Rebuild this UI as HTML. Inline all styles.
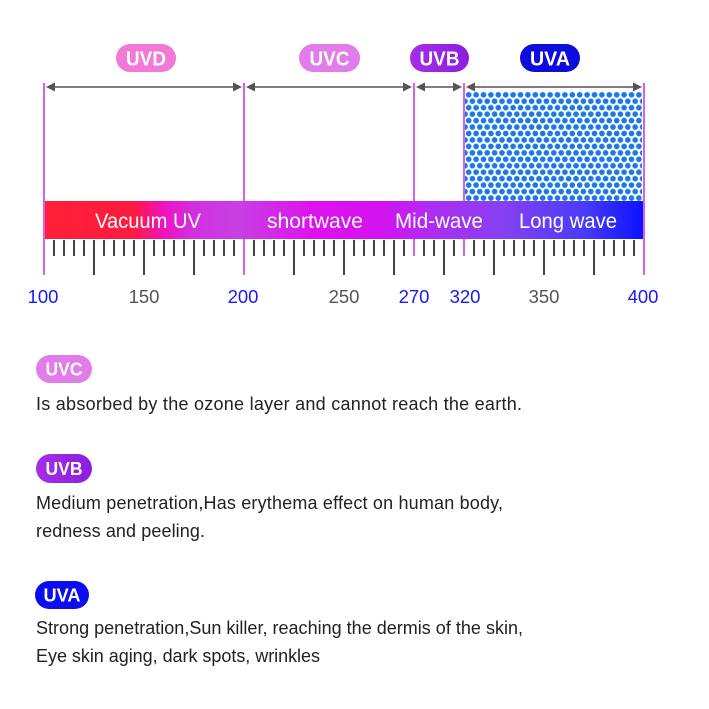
<!DOCTYPE html>
<html><head><meta charset="utf-8">
<style>
html,body{margin:0;padding:0;background:#fff;}
svg{display:block;}
</style></head>
<body>
<svg width="709" height="709" viewBox="0 0 709 709" xmlns="http://www.w3.org/2000/svg">
<defs>
<linearGradient id="bar" x1="44" y1="0" x2="644" y2="0" gradientUnits="userSpaceOnUse">
<stop offset="0" stop-color="#ff2038"/>
<stop offset="0.15" stop-color="#ff1a40"/>
<stop offset="0.2" stop-color="#f012c0"/>
<stop offset="0.25" stop-color="#d030e0"/>
<stop offset="0.32" stop-color="#c840e2"/>
<stop offset="0.45" stop-color="#dc12ee"/>
<stop offset="0.56" stop-color="#d412f0"/>
<stop offset="0.64" stop-color="#b02cf0"/>
<stop offset="0.76" stop-color="#8840f2"/>
<stop offset="0.9" stop-color="#4a3cf8"/>
<stop offset="1" stop-color="#0a12ff"/>
</linearGradient>
<linearGradient id="uvb" x1="0" y1="0" x2="1" y2="0">
<stop offset="0" stop-color="#a52ee6"/>
<stop offset="1" stop-color="#8a1ee0"/>
</linearGradient>
<pattern id="dots" x="465" y="94.8" width="7.4" height="12.9" patternUnits="userSpaceOnUse">
<circle cx="3.7" cy="0" r="2.85" fill="#1a78e8"/>
<circle cx="0" cy="6.45" r="2.85" fill="#1a78e8"/>
<circle cx="7.4" cy="6.45" r="2.85" fill="#1a78e8"/>
<circle cx="3.7" cy="12.9" r="2.85" fill="#1a78e8"/>
</pattern>
</defs>

<!-- top pills -->
<rect x="116" y="44" width="60" height="28" rx="14" fill="#f27ad6"/>
<text x="146" y="65.5" font-family="Liberation Sans, sans-serif" font-weight="bold" font-size="20" fill="#fff" text-anchor="middle" textLength="40" lengthAdjust="spacingAndGlyphs">UVD</text>
<rect x="299" y="44" width="61" height="28" rx="14" fill="#e27ce8"/>
<text x="329.5" y="65.5" font-family="Liberation Sans, sans-serif" font-weight="bold" font-size="20" fill="#fff" text-anchor="middle" textLength="40" lengthAdjust="spacingAndGlyphs">UVC</text>
<rect x="410" y="44" width="59" height="28" rx="14" fill="url(#uvb)"/>
<text x="439.5" y="65.5" font-family="Liberation Sans, sans-serif" font-weight="bold" font-size="20" fill="#fff" text-anchor="middle" textLength="40" lengthAdjust="spacingAndGlyphs">UVB</text>
<rect x="520" y="44" width="60" height="28" rx="14" fill="#0c0cdc"/>
<text x="550" y="65.5" font-family="Liberation Sans, sans-serif" font-weight="bold" font-size="20" fill="#fff" text-anchor="middle" textLength="40" lengthAdjust="spacingAndGlyphs">UVA</text>

<!-- dotted area -->
<rect x="465" y="92" width="177" height="109" fill="url(#dots)"/>

<!-- vertical purple lines -->
<g stroke="#d95ef0" stroke-width="2">
<line x1="44" y1="83" x2="44" y2="275"/>
<line x1="244" y1="83" x2="244" y2="275"/>
<line x1="414" y1="83" x2="414" y2="256"/>
<line x1="464" y1="83" x2="464" y2="256"/>
<line x1="644" y1="83" x2="644" y2="275"/>
</g>

<!-- arrows -->
<g stroke="#555" stroke-width="1.5">
<line x1="50" y1="87" x2="238" y2="87"/>
<line x1="250" y1="87" x2="408" y2="87"/>
<line x1="420" y1="87" x2="458" y2="87"/>
<line x1="470" y1="87" x2="638" y2="87"/>
</g>
<g fill="#555">
<polygon points="46,87 55,82.5 55,91.5"/>
<polygon points="242,87 233,82.5 233,91.5"/>
<polygon points="246,87 255,82.5 255,91.5"/>
<polygon points="412,87 403,82.5 403,91.5"/>
<polygon points="416,87 425,82.5 425,91.5"/>
<polygon points="462,87 453,82.5 453,91.5"/>
<polygon points="466,87 475,82.5 475,91.5"/>
<polygon points="642,87 633,82.5 633,91.5"/>
</g>

<!-- gradient bar -->
<rect x="45" y="201" width="598" height="38" fill="url(#bar)"/>
<g font-family="Liberation Sans, sans-serif" font-size="21" fill="#fff">
<text x="95" y="228" textLength="106" lengthAdjust="spacingAndGlyphs">Vacuum UV</text>
<text x="267" y="228" textLength="96" lengthAdjust="spacingAndGlyphs">shortwave</text>
<text x="395" y="228" textLength="88" lengthAdjust="spacingAndGlyphs">Mid-wave</text>
<text x="519" y="228" textLength="98" lengthAdjust="spacingAndGlyphs">Long wave</text>
</g>

<!-- ticks -->
<g stroke="#444" stroke-width="2">
<line x1="54" y1="240" x2="54" y2="256"/><line x1="64" y1="240" x2="64" y2="256"/><line x1="74" y1="240" x2="74" y2="256"/><line x1="84" y1="240" x2="84" y2="256"/>
<line x1="94" y1="240" x2="94" y2="275"/>
<line x1="104" y1="240" x2="104" y2="256"/><line x1="114" y1="240" x2="114" y2="256"/><line x1="124" y1="240" x2="124" y2="256"/><line x1="134" y1="240" x2="134" y2="256"/>
<line x1="144" y1="240" x2="144" y2="275"/>
<line x1="154" y1="240" x2="154" y2="256"/><line x1="164" y1="240" x2="164" y2="256"/><line x1="174" y1="240" x2="174" y2="256"/><line x1="184" y1="240" x2="184" y2="256"/>
<line x1="194" y1="240" x2="194" y2="275"/>
<line x1="204" y1="240" x2="204" y2="256"/><line x1="214" y1="240" x2="214" y2="256"/><line x1="224" y1="240" x2="224" y2="256"/><line x1="234" y1="240" x2="234" y2="256"/>
<line x1="254" y1="240" x2="254" y2="256"/><line x1="264" y1="240" x2="264" y2="256"/><line x1="274" y1="240" x2="274" y2="256"/><line x1="284" y1="240" x2="284" y2="256"/>
<line x1="294" y1="240" x2="294" y2="275"/>
<line x1="304" y1="240" x2="304" y2="256"/><line x1="314" y1="240" x2="314" y2="256"/><line x1="324" y1="240" x2="324" y2="256"/><line x1="334" y1="240" x2="334" y2="256"/>
<line x1="344" y1="240" x2="344" y2="275"/>
<line x1="354" y1="240" x2="354" y2="256"/><line x1="364" y1="240" x2="364" y2="256"/><line x1="374" y1="240" x2="374" y2="256"/><line x1="384" y1="240" x2="384" y2="256"/>
<line x1="394" y1="240" x2="394" y2="275"/>
<line x1="404" y1="240" x2="404" y2="256"/><line x1="424" y1="240" x2="424" y2="256"/><line x1="434" y1="240" x2="434" y2="256"/>
<line x1="444" y1="240" x2="444" y2="275"/>
<line x1="454" y1="240" x2="454" y2="256"/><line x1="474" y1="240" x2="474" y2="256"/><line x1="484" y1="240" x2="484" y2="256"/>
<line x1="494" y1="240" x2="494" y2="275"/>
<line x1="504" y1="240" x2="504" y2="256"/><line x1="514" y1="240" x2="514" y2="256"/><line x1="524" y1="240" x2="524" y2="256"/><line x1="534" y1="240" x2="534" y2="256"/>
<line x1="544" y1="240" x2="544" y2="275"/>
<line x1="554" y1="240" x2="554" y2="256"/><line x1="564" y1="240" x2="564" y2="256"/><line x1="574" y1="240" x2="574" y2="256"/><line x1="584" y1="240" x2="584" y2="256"/>
<line x1="594" y1="240" x2="594" y2="275"/>
<line x1="604" y1="240" x2="604" y2="256"/><line x1="614" y1="240" x2="614" y2="256"/><line x1="624" y1="240" x2="624" y2="256"/><line x1="634" y1="240" x2="634" y2="256"/>
</g>

<!-- axis labels -->
<g font-family="Liberation Sans, sans-serif" font-size="18.5" text-anchor="middle">
<text x="43" y="303" fill="#1a1aee">100</text>
<text x="144" y="303" fill="#555">150</text>
<text x="243" y="303" fill="#1a1aee">200</text>
<text x="344" y="303" fill="#555">250</text>
<text x="414" y="303" fill="#1a1aee">270</text>
<text x="465" y="303" fill="#1a1aee">320</text>
<text x="544" y="303" fill="#555">350</text>
<text x="643" y="303" fill="#1a1aee">400</text>
</g>

<!-- bottom section -->
<rect x="36" y="355" width="56" height="28" rx="14" fill="#e27ce8"/>
<text x="64" y="375.5" font-family="Liberation Sans, sans-serif" font-weight="bold" font-size="18.5" fill="#fff" text-anchor="middle" textLength="37" lengthAdjust="spacingAndGlyphs">UVC</text>
<rect x="36" y="454" width="56" height="29" rx="14.5" fill="url(#uvb)"/>
<text x="64" y="475" font-family="Liberation Sans, sans-serif" font-weight="bold" font-size="18.5" fill="#fff" text-anchor="middle" textLength="37" lengthAdjust="spacingAndGlyphs">UVB</text>
<rect x="35" y="581" width="54" height="28" rx="14" fill="#0c0cf0"/>
<text x="62" y="601.5" font-family="Liberation Sans, sans-serif" font-weight="bold" font-size="18.5" fill="#fff" text-anchor="middle" textLength="37" lengthAdjust="spacingAndGlyphs">UVA</text>

<g font-family="Liberation Sans, sans-serif" font-size="18" fill="#222">
<text x="36" y="410" textLength="486" lengthAdjust="spacing">Is absorbed by the ozone layer and cannot reach the earth.</text>
<text x="36" y="509" textLength="467" lengthAdjust="spacing">Medium penetration,Has erythema effect on human body,</text>
<text x="36" y="537" textLength="169" lengthAdjust="spacing">redness and peeling.</text>
<text x="36" y="634" textLength="487" lengthAdjust="spacing">Strong penetration,Sun killer, reaching the dermis of the skin,</text>
<text x="36" y="662" textLength="284" lengthAdjust="spacing">Eye skin aging, dark spots, wrinkles</text>
</g>
</svg>
</body></html>
